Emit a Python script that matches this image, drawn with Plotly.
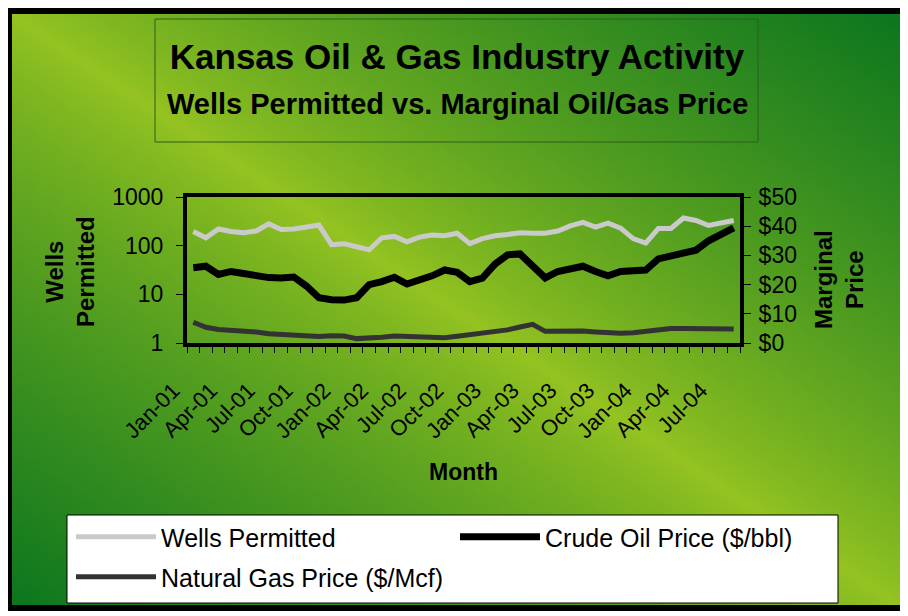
import plotly.graph_objects as go
import zlib, struct, base64

# ---------------- data ----------------
months = ["Jan-01", "Feb-01", "Mar-01", "Apr-01", "May-01", "Jun-01", "Jul-01", "Aug-01",
          "Sep-01", "Oct-01", "Nov-01", "Dec-01", "Jan-02", "Feb-02", "Mar-02", "Apr-02",
          "May-02", "Jun-02", "Jul-02", "Aug-02", "Sep-02", "Oct-02", "Nov-02", "Dec-02",
          "Jan-03", "Feb-03", "Mar-03", "Apr-03", "May-03", "Jun-03", "Jul-03", "Aug-03",
          "Sep-03", "Oct-03", "Nov-03", "Dec-03", "Jan-04", "Feb-04", "Mar-04", "Apr-04",
          "May-04", "Jun-04", "Jul-04", "Aug-04"]

wells_permitted = [195, 145, 220, 195, 185, 200, 280, 215, 220, 235,
                   265, 105, 110, 95, 82, 145, 155, 120, 150, 165,
                   160, 180, 110, 140, 160, 170, 185, 180, 180, 200,
                   255, 300, 240, 290, 230, 140, 113, 225, 225, 370,
                   330, 260, 290, 330]

crude_oil_price = [25.8, 26.3, 23.5, 24.5, 23.8, 23.0, 22.4, 22.3, 22.6, 19.5,
                   15.5, 14.8, 14.7, 15.5, 20.0, 21.0, 22.5, 20.2, 21.5, 23.0,
                   25.0, 24.2, 21.0, 22.2, 27.0, 30.2, 30.5, 26.0, 22.3, 24.5,
                   25.5, 26.3, 24.5, 23.0, 24.5, 24.8, 25.0, 28.8, 30.0, 30.8,
                   31.8, 35.0, 37.2, 39.4]

natural_gas_price = [7.1, 5.4, 4.6, 4.4, 4.2, 3.8, 3.2, 2.9, 2.7, 2.2,
                     2.2, 2.5, 2.4, 1.5, 1.6, 2.0, 2.4, 2.3, 2.2, 2.1,
                     1.8, 2.3, 2.8, 3.2, 3.9, 4.5, 5.5, 6.4, 4.0, 4.1,
                     4.0, 4.1, 3.8, 3.5, 3.3, 3.5, 4.0, 4.9, 5.0, 5.0,
                     5.0, 5.0, 4.9, 4.8]

tick_labels = months[::3]
left_ticks = [1, 10, 100, 1000]
right_ticks = [0, 10, 20, 30, 40, 50]

# ---------------- geometry helpers ----------------
# the page body adds an 8 px offset, so target screen positions are given
# as (screen - 8) figure pixels
W, H = 908, 616
OFF = 8
PL, PR, PT, PB = 187 - OFF, 740 - OFF, 197 - OFF, 343 - OFF
PW, PH = PR - PL, PB - PT


def fx(sx):
    return (sx - OFF - PL) / PW


def fy(sy):
    return (PB - (sy - OFF)) / PH


# ---------------- gradient background image ----------------
def gradient_png(gw, gh, light, dark):
    rows = []
    for j in range(gh):
        row = bytearray([0])
        for i in range(gw):
            u = abs((i + 0.5) / gw - (j + 0.5) / gh)
            t = min(1.0, u ** 0.8)
            for k in range(3):
                row.append(int(round(light[k] + (dark[k] - light[k]) * t)))
        rows.append(bytes(row))
    raw = b"".join(rows)

    def chunk(tag, data):
        return (struct.pack(">I", len(data)) + tag + data +
                struct.pack(">I", zlib.crc32(tag + data) & 0xffffffff))

    png = (b"\x89PNG\r\n\x1a\n" +
           chunk(b"IHDR", struct.pack(">IIBBBBB", gw, gh, 8, 2, 0, 0, 0)) +
           chunk(b"IDAT", zlib.compress(raw, 9)) +
           chunk(b"IEND", b""))
    return "data:image/png;base64," + base64.b64encode(png).decode()


bg_src = gradient_png(120, 80, (150, 196, 33), (12, 118, 30))

FONT = "Liberation Sans, Arial, sans-serif"

fig = go.Figure()
x_idx = list(range(len(months)))

fig.add_trace(go.Scatter(
    x=x_idx, y=wells_permitted, name="Wells Permitted", mode="lines",
    line=dict(color="#cacaca", width=5), yaxis="y", legend="legend",
    customdata=months, hovertemplate="%{customdata}: %{y}<extra></extra>"))
fig.add_trace(go.Scatter(
    x=x_idx, y=crude_oil_price, name="Crude Oil Price ($/bbl)", mode="lines",
    line=dict(color="#000000", width=7), yaxis="y2", legend="legend2",
    customdata=months, hovertemplate="%{customdata}: $%{y}<extra></extra>"))
fig.add_trace(go.Scatter(
    x=x_idx, y=natural_gas_price, name="Natural Gas Price ($/Mcf)", mode="lines",
    line=dict(color="#333333", width=5), yaxis="y2", legend="legend3",
    customdata=months, hovertemplate="%{customdata}: $%{y}<extra></extra>"))

legend_common = dict(
    orientation="v", xref="container", yref="container",
    xanchor="left", yanchor="top", itemwidth=80,
    bgcolor="rgba(0,0,0,0)", borderwidth=0,
    font=dict(size=25, family=FONT, color="black"),
)

fig.update_layout(
    width=W, height=H,
    margin=dict(l=PL, r=W - PR, t=PT, b=H - PB, autoexpand=False),
    paper_bgcolor="white",
    plot_bgcolor="white",
    font=dict(family=FONT, color="black"),
    showlegend=True,
    title=dict(text="<b>Kansas Oil & Gas Industry Activity</b>",
               x=(457 - OFF) / W, xref="container", xanchor="center",
               y=1 - (57 - OFF) / H, yref="container", yanchor="middle",
               font=dict(size=35, family=FONT, color="black")),
    xaxis=dict(
        range=[-0.5, len(months) - 0.5],
        tickmode="array", tickvals=x_idx[::3], ticktext=tick_labels,
        tickangle=-45, ticks="", tickfont=dict(size=22),
        ticklabelstandoff=22, ticklabelshift=-20,
        showline=True, linecolor="black", linewidth=4, mirror=True,
        showgrid=False, zeroline=False, automargin=True,
        minor=dict(tick0=-0.5, dtick=1, ticks="outside", ticklen=6,
                   tickcolor="black", tickwidth=1, showgrid=False),
        title=dict(text="<b>Month</b>", font=dict(size=23), standoff=23),
    ),
    yaxis=dict(
        type="log", range=[0, 3],
        tickmode="array", tickvals=left_ticks, ticktext=[str(v) for v in left_ticks],
        ticks="outside", ticklen=7, tickcolor="black", tickfont=dict(size=23),
        ticklabelstandoff=8,
        showline=True, linecolor="black", linewidth=4, mirror=True,
        showgrid=False, zeroline=False, automargin=False,
    ),
    yaxis2=dict(
        overlaying="y", side="right", range=[0, 50],
        tickmode="array", tickvals=right_ticks,
        ticktext=["$" + str(v) for v in right_ticks],
        ticks="outside", ticklen=7, tickcolor="black", tickfont=dict(size=23),
        ticklabelstandoff=3,
        showline=True, linecolor="black", linewidth=4,
        showgrid=False, zeroline=False, automargin=False,
    ),
    legend=dict(legend_common, x=63 / W, y=1 - 506 / H),
    legend2=dict(legend_common, x=447 / W, y=1 - 506 / H),
    legend3=dict(legend_common, x=63 / W, y=1 - 546 / H),
    images=[dict(
        source=bg_src, xref="paper", yref="paper",
        x=fx(8), y=fy(12), sizex=(900 - 8) / PW, sizey=(606 - 12) / PH,
        xanchor="left", yanchor="top", sizing="stretch", layer="below")],
    annotations=[
        dict(text="<b>Wells Permitted vs. Marginal Oil/Gas Price</b>",
             xref="paper", yref="paper", x=fx(457), y=fy(104),
             xanchor="center", yanchor="middle", showarrow=False,
             font=dict(size=29, family=FONT, color="black")),
        # left axis title
        dict(text="<b>Wells<br>Permitted</b>", textangle=-90,
             xref="paper", yref="paper", x=fx(70), y=fy(272),
             xanchor="center", yanchor="middle", showarrow=False,
             font=dict(size=24, family=FONT, color="black")),
        # right axis title
        dict(text="<b>Marginal<br>Price</b>", textangle=-90,
             xref="paper", yref="paper", x=fx(839), y=fy(280),
             xanchor="center", yanchor="middle", showarrow=False,
             font=dict(size=24, family=FONT, color="black")),
    ],
    shapes=[
        # title box
        dict(type="rect", xref="paper", yref="paper",
             x0=fx(155), x1=fx(758), y0=fy(19), y1=fy(142),
             line=dict(color="#2c5f1e", width=1), fillcolor="rgba(0,0,0,0)",
             layer="above"),
        # legend box
        dict(type="rect", xref="paper", yref="paper",
             x0=fx(67), x1=fx(838), y0=fy(515), y1=fy(603),
             line=dict(color="black", width=1), fillcolor="white",
             layer="above"),
        # outer frame
        dict(type="rect", xref="paper", yref="paper",
             x0=fx(9), x1=fx(903), y0=fy(11), y1=fy(608),
             line=dict(color="black", width=6), fillcolor="rgba(0,0,0,0)",
             layer="above"),
    ],
)

fig.write_html("out.html")
